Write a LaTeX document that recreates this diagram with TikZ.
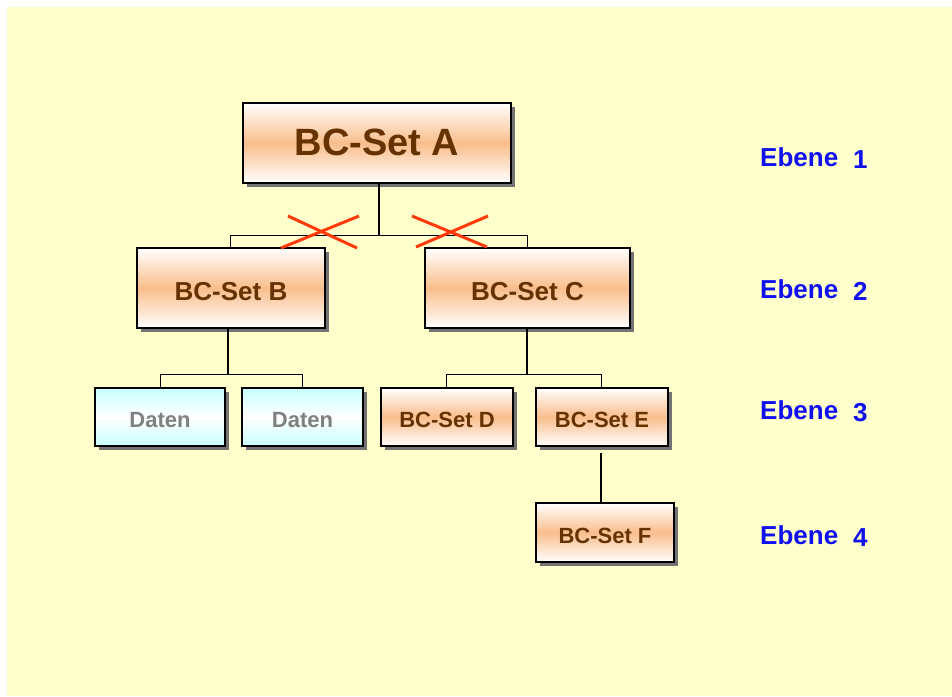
\documentclass[tikz,border=0pt]{standalone}
\usepackage{fontspec}
\setmainfont{Liberation Sans}
\usetikzlibrary{shadows}
\definecolor{bgyellow}{HTML}{FFFFCC}
\definecolor{peach}{HTML}{F9BE8C}
\definecolor{cyanlight}{HTML}{C8FFFF}
\definecolor{brown}{HTML}{663300}
\definecolor{ebeneblue}{HTML}{1010F0}
\definecolor{crossred}{HTML}{FF3A0A}
\tikzset{
  setbox/.style={draw=black, line width=1.6pt, top color=white, bottom color=white, middle color=peach,
    drop shadow={shadow xshift=4pt, shadow yshift=-4pt, fill=black!55, opacity=1},
    text=brown, font=\bfseries, inner sep=0pt, text depth=0pt},
  databox/.style={draw=black, line width=1.6pt, top color=cyanlight, bottom color=cyanlight, middle color=white,
    drop shadow={shadow xshift=4pt, shadow yshift=-4pt, fill=black!55, opacity=1},
    text=black!50, font=\bfseries\fontsize{22}{24}\selectfont, inner sep=0pt, text depth=0pt, text height=20.8pt},
  bigtext/.style={font=\bfseries\fontsize{38}{40}\selectfont, text height=24.2pt},
  midtext/.style={font=\bfseries\fontsize{26}{28}\selectfont, text height=24.6pt},
  smalltext/.style={font=\bfseries\fontsize{22}{24}\selectfont, text height=21.2pt},
  vline/.style={line width=1.5pt},
  hline/.style={line width=1pt},
  crossline/.style={crossred, line width=3pt},
  ebene/.style={text=ebeneblue, font=\bfseries\fontsize{26}{28}\selectfont, anchor=west, inner sep=0pt}
}
\begin{document}
\begin{tikzpicture}[x=1pt,y=-1pt]
\useasboundingbox (0,0) rectangle (952,696);
\fill[bgyellow] (7,7) rectangle (952,696);

\node[setbox, bigtext, minimum width=268pt, minimum height=80pt] (A) at (377,143) {BC-Set A};
\node[setbox, midtext, minimum width=188pt, minimum height=80pt] (B) at (231,288) {BC-Set B};
\node[setbox, midtext, minimum width=205pt, minimum height=80pt] (C) at (527.5,288) {BC-Set C};
\node[databox, minimum width=130pt, minimum height=58pt] (D1) at (160,417) {Daten};
\node[databox, minimum width=121pt, minimum height=58pt] (D2) at (302.5,417) {Daten};
\node[setbox, smalltext, minimum width=132pt, minimum height=58pt] (D) at (447,417) {BC-Set D};
\node[setbox, smalltext, minimum width=132pt, minimum height=58pt] (E) at (602,417) {BC-Set E};
\node[setbox, smalltext, minimum width=138pt, minimum height=59pt] (F) at (605,532.5) {BC-Set F};

% connectors level 1 -> 2
\coordinate (jA) at (379,235);
\coordinate (jAL) at (230,235);
\coordinate (jAR) at (527,235);
\draw[vline] (A.south -| jA) -- (jA);
\draw[hline] (jAL) -- (jAR);
\draw[hline] (jAL) -- (B.north -| jAL);
\draw[hline] (jAR) -- (C.north -| jAR);

% connectors B -> Daten
\coordinate (jB) at (228,374);
\draw[vline] (B.south -| jB) -- (jB);
\draw[hline] (D1.north |- jB) -- (D2.north |- jB);
\draw[hline] (D1.north |- jB) -- (D1.north);
\draw[hline] (D2.north |- jB) -- (D2.north);

% connectors C -> D, E
\coordinate (jC) at (527,374);
\coordinate (jCL) at (446,374);
\coordinate (jCR) at (601,374);
\draw[vline] (C.south -| jC) -- (jC);
\draw[hline] (jCL) -- (jCR);
\draw[hline] (jCL) -- (D.north -| jCL);
\draw[hline] (jCR) -- (E.north -| jCR);

% E -> F
\coordinate (eF) at (601,453);
\draw[vline] (eF) -- (F.north -| eF);

% crosses
\coordinate (x1a) at (288,216); \coordinate (x1b) at (357,248);
\coordinate (x1c) at (359,216); \coordinate (x1d) at (281,248);
\coordinate (x2a) at (412,216); \coordinate (x2b) at (487,247);
\coordinate (x2c) at (488,216); \coordinate (x2d) at (416,247);
\draw[crossline] (x1a) -- (x1b);
\draw[crossline] (x1c) -- (x1d);
\draw[crossline] (x2a) -- (x2b);
\draw[crossline] (x2c) -- (x2d);

% levels
\node[ebene] (L1) at (760,158) {Ebene\hspace{15pt}\raisebox{-2pt}{1}};
\node[ebene] (L2) at (760,290) {Ebene\hspace{15pt}\raisebox{-2pt}{2}};
\node[ebene] (L3) at (760,411) {Ebene\hspace{15pt}\raisebox{-2pt}{3}};
\node[ebene] (L4) at (760,536) {Ebene\hspace{15pt}\raisebox{-2pt}{4}};
\end{tikzpicture}
\end{document}
